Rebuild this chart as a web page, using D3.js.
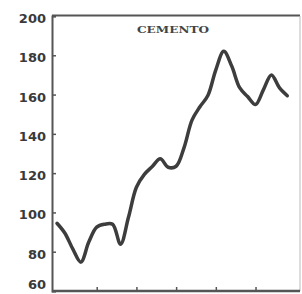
<!DOCTYPE html>
<html><head><meta charset="utf-8">
<script src="https://cdn.jsdelivr.net/npm/d3@7"></script>
<style>body{margin:0;background:#fff}svg{display:block}</style>
</head><body>
<script>
const title = "CEMENTO";
const yTicks = [60, 80, 100, 120, 140, 160, 180, 200];
const xTicks = [5, 10, 15, 20, 25];
const periods = d3.range(30);
const values = [94.5, 89.4, 81.3, 74.7, 84.9, 92.5, 94, 94, 83.8, 97.5,
  112.8, 119.4, 123.4, 127.3, 123, 123.5, 133, 147, 153.8, 159.5,
  172.6, 182, 174.5, 163.5, 159, 154.9, 162.5, 170, 163.5, 159.4];

const W = 302, H = 294;
const svg = d3.select("body").append("svg").attr("width", W).attr("height", H);
const x = d3.scaleLinear().domain([-0.63, 30.6]).range([52, 300]);
const y = d3.scaleLinear().domain([60, 200]).range([291, 16]);

// frame top and right
svg.append("line").attr("x1", 52).attr("x2", 300).attr("y1", y(200)-0.5).attr("y2", y(200)-0.5)
  .attr("stroke", "#555").attr("stroke-width", 2);
svg.append("line").attr("x1", 300).attr("x2", 300).attr("y1", y(200)).attr("y2", 291)
  .attr("stroke", "#bbb").attr("stroke-width", 1);

// y axis
const ya = svg.append("g").attr("transform", "translate(52,0)")
  .call(d3.axisLeft(y).tickValues(yTicks).tickSize(-4).tickPadding(10));
ya.select(".domain").attr("stroke", "#555").attr("stroke-width", 2);
ya.selectAll(".tick line").attr("stroke", "#555").attr("stroke-width", 1.5);
ya.selectAll(".tick text").attr("font-family", "DejaVu Sans").attr("font-weight", "bold")
  .attr("font-size", 13).attr("fill", "#3a3a3a").attr("x", -6)
  .attr("dy", d => d === 60 ? "-0.2em" : "0.5em");

// x axis
const xa = svg.append("g").attr("transform", "translate(0,291)")
  .call(d3.axisBottom(x).tickValues(xTicks).tickSize(-4).tickFormat(""));
xa.select(".domain").attr("stroke", "#555").attr("stroke-width", 2.5).attr("d", "M52,0H300");
xa.selectAll(".tick line").attr("stroke", "#555").attr("stroke-width", 1.5);

// line
const line = d3.line().x((d, i) => x(periods[i])).y(d => y(d)).curve(d3.curveCatmullRom.alpha(0.5));
svg.append("path").datum(values).attr("d", line).attr("fill", "none")
  .attr("stroke", "#3d3d3d").attr("stroke-width", 3.5).attr("stroke-linejoin", "round").attr("stroke-linecap", "round");

// title
svg.append("text").attr("x", 137).attr("y", 33).attr("textLength", 72).attr("lengthAdjust", "spacingAndGlyphs")
  .attr("font-family", "DejaVu Serif").attr("font-weight", "bold").attr("font-size", 10)
  .attr("fill", "#444").text(title);
</script>
</body></html>
